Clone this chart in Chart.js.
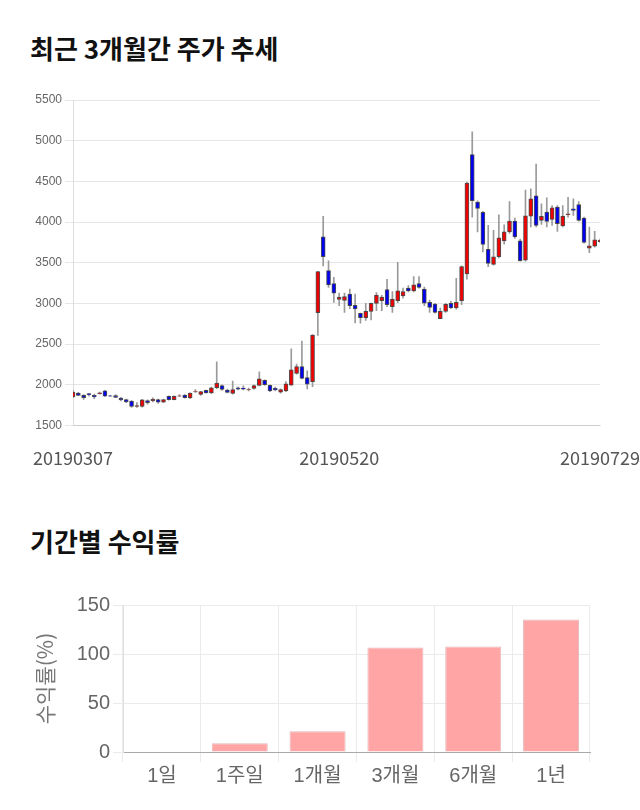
<!DOCTYPE html>
<html><head><meta charset="utf-8">
<script src="https://cdn.jsdelivr.net/npm/chart.js@4.4.0/dist/chart.umd.min.js"></script>
<style>
html,body{margin:0;padding:0;background:#fff;width:640px;height:810px;overflow:hidden;font-family:"Noto Sans CJK KR",sans-serif;}
.title{position:absolute;left:30px;font-size:26px;font-weight:bold;color:#111;line-height:1;white-space:nowrap;}
#t1{top:35px}
#t2{top:528px}
#c1{position:absolute;left:0;top:80px;}
#c2{position:absolute;left:0;top:580px;}
</style></head><body>
<div class="title" id="t1">최근 3개월간 주가 추세</div>
<div class="title" id="t2">기간별 수익률</div>
<canvas id="c1" width="640" height="400"></canvas>
<canvas id="c2" width="640" height="230"></canvas>
<script>
const dates = [
'20190307','20190308','20190311','20190312','20190313','20190314','20190315','20190318','20190319','20190320','20190321','20190322','20190325','20190326','20190327','20190328','20190329',
'20190401','20190402','20190403','20190404','20190405','20190408','20190409','20190410','20190411','20190412','20190415','20190416','20190417','20190418','20190419','20190422','20190423','20190424','20190425','20190426','20190429','20190430',
'20190502','20190503','20190507','20190508','20190509','20190510','20190513','20190514','20190515','20190516','20190517','20190520','20190521','20190522','20190523','20190524','20190527','20190528','20190529','20190530','20190531',
'20190603','20190604','20190605','20190607','20190610','20190611','20190612','20190613','20190614','20190617','20190618','20190619','20190620','20190621','20190624','20190625','20190626','20190627','20190628',
'20190701','20190702','20190703','20190704','20190705','20190708','20190709','20190710','20190711','20190712','20190715','20190716','20190717','20190718','20190719','20190722','20190723','20190724','20190725','20190726','20190729'
];
const opens = [1849,1898,1870,1890,1870,1890,1925,1865,1866,1837,1817,1800,1732,1732,1805,1800,1817,1785,1857,1817,
1860,1874,1837,1912,1882,1931,1898,1963,1988,1935,1894,1963,1960,1935,1955,1992,2053,1992,1955,1910,
1923,1996,2138,2224,2089,2037,2886,3817,3402,3244,3049,3037,3114,2976,2878,2821,2902,3000,3033,3171,
2959,3033,3093,3187,3154,3244,3175,3012,2992,2813,2902,3000,2943,3033,3362,4829,4244,4118,3663,3480,
3573,3768,3878,4012,3768,3532,4073,4321,4020,4122,4033,4183,3951,4089,4163,4215,4049,3679,3703,3760];
const highs = [1930,1905,1880,1895,1885,1910,1930,1870,1880,1845,1825,1805,1780,1820,1815,1840,1825,1825,1862,1862,
1880,1880,1900,1940,1920,1935,1970,2280,2000,1945,2045,1975,1985,1960,2000,2160,2060,2000,1970,1950,
2040,2440,2255,2537,2170,2615,3395,4069,3524,3321,3126,3126,3175,3114,2880,3000,3005,3134,3100,3297,
3146,3504,3187,3220,3329,3329,3200,3040,3000,2943,3000,3024,3309,3460,4490,5110,4260,4130,3959,3898,
4089,3967,4252,4049,3790,4394,4407,4711,4224,4297,4203,4203,4203,4305,4285,4252,4060,3939,3886,3790];
const lows = [1840,1865,1820,1860,1830,1885,1855,1855,1840,1800,1780,1720,1720,1725,1760,1790,1770,1780,1810,1812,
1855,1835,1830,1905,1870,1895,1890,1950,1930,1900,1885,1935,1935,1925,1945,1985,1990,1915,1925,1895,
1915,1990,2130,2070,1947,1976,2606,3459,3195,3012,2972,2890,2935,2760,2756,2789,2797,2911,2911,2960,
2890,3010,3065,3140,3140,3187,2972,2890,2880,2813,2890,2935,2930,2984,3297,4061,3878,3634,3451,3470,
3560,3728,3860,3800,3520,3520,3939,3940,3972,3939,3959,3886,3940,4061,4081,4010,3740,3622,3690,3750];
const closes = [1910,1870,1841,1878,1850,1900,1860,1860,1845,1813,1790,1732,1745,1813,1780,1825,1785,1817,1817,1857,
1865,1841,1898,1915,1915,1898,1963,2020,1943,1906,1939,1945,1945,1940,1988,2073,2000,1923,1935,1939,
2012,2183,2224,2077,2008,2610,3390,3573,3228,3126,3077,3085,2972,2931,2825,2902,3000,3102,3077,2984,
3053,3154,3146,3154,3228,3195,3004,2951,2890,2902,2988,2943,3012,3451,4480,4264,4167,3724,3492,3573,
3805,3878,4012,3817,3524,4077,4285,3959,4069,4008,4175,3980,4073,4102,4142,4020,3748,3707,3780,3776];
const tickLabels = ['20190307','20190520','20190729'];

const periods = ['1일','1주일','1개월','3개월','6개월','1년'];
const returns = [0, 8.9, 21.2, 106.6, 107.6, 135.3];

const bodies = dates.map((d, i) => [opens[i], closes[i]]);
const wicks = dates.map((d, i) => [lows[i], highs[i]]);
const bodyColors = dates.map((d, i) => closes[i] >= opens[i] ? '#f00000' : '#0000f0');

new Chart(document.getElementById('c1'), {
  type: 'bar',
  data: {
    labels: dates,
    datasets: [
      { label: 'body', data: bodies, backgroundColor: bodyColors, borderColor: 'rgba(50,50,50,0.85)', borderWidth: 1,
        borderSkipped: false, barThickness: 4, grouped: false, order: 0, clip: 0 },
      { label: 'wick', data: wicks, backgroundColor: '#9a9a9a', borderWidth: 0,
        barThickness: 1, grouped: false, order: 1, clip: 0 }
    ]
  },
  options: {
    responsive: false, animation: false,
    layout: { padding: { top: 20, bottom: 8, left: 0, right: 0 } },
    plugins: { legend: { display: false }, tooltip: { enabled: false } },
    scales: {
      x: {
        offset: false,
        grid: { display: false, drawTicks: true, tickLength: 19 },
        border: { display: true, color: 'rgba(0,0,0,0.1)' },
        ticks: {
          autoSkip: false, maxRotation: 0, minRotation: 0, padding: 3, color: '#555',
          font: { family: '"Noto Sans CJK KR"', size: 18 },
          callback: (v, i) => tickLabels.includes(dates[i]) ? dates[i] : ''
        },
        afterFit: (s) => { s.paddingLeft = 0; s.paddingRight = 40; }
      },
      y: {
        min: 1500, max: 5500,
        ticks: { stepSize: 500, padding: 3, color: '#666', font: { family: '"Liberation Sans"', size: 12 },
                 callback: (v) => String(v) },
        grid: { color: '#e6e6e6', tickLength: 8 },
        border: { color: '#dddddd' },
        afterFit: (s) => { s.width = 73; }
      }
    }
  }
});

new Chart(document.getElementById('c2'), {
  type: 'bar',
  data: {
    labels: periods,
    datasets: [{ data: returns, backgroundColor: '#ffa5a5', borderColor: '#e4b9b9', borderWidth: 1 }]
  },
  options: {
    responsive: false, animation: false,
    layout: { padding: { top: 25, bottom: 20, left: 30, right: 50 } },
    plugins: { legend: { display: false }, tooltip: { enabled: false } },
    scales: {
      x: {
        grid: { color: '#ebebeb', tickLength: 10 },
        border: { color: '#aaaaaa' },
        ticks: { color: '#666', padding: 2, font: { family: '"Liberation Sans","Noto Sans CJK KR"', size: 20 } }
      },
      y: {
        min: 0, max: 150,
        ticks: { stepSize: 50, color: '#666', padding: 3, font: { family: '"Liberation Sans"', size: 20 } },
        grid: { color: '#ebebeb', tickLength: 10 },
        border: { color: '#e0e0e0' },
        title: { display: true, text: '수익률(%)', color: '#777', padding: { top: 2, bottom: 2 },
                 font: { family: '"Noto Sans CJK KR"', size: 21 } },
        afterFit: (s) => { s.width = 93; }
      }
    }
  }
});
</script>
</body></html>
